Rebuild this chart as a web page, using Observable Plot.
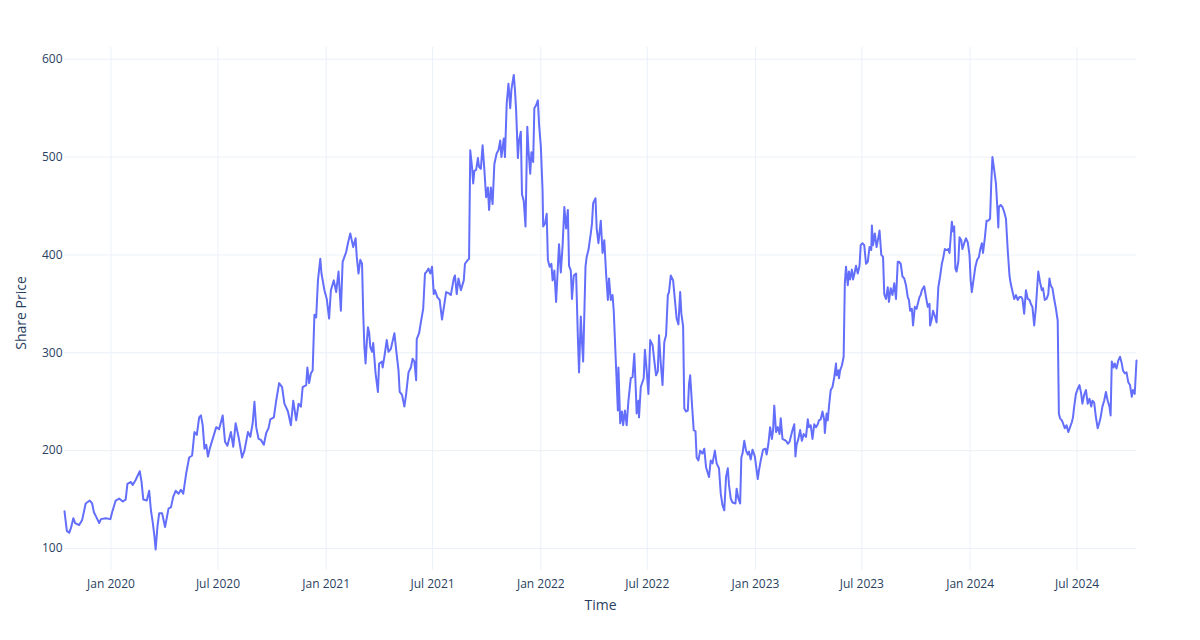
<!DOCTYPE html>
<html>
<head>
<meta charset="utf-8">
<script src="https://cdn.jsdelivr.net/npm/d3@7"></script>
<script src="https://cdn.jsdelivr.net/npm/@observablehq/plot@0.6"></script>
<style>
  html, body { margin: 0; padding: 0; background: #ffffff; }
  #chart { width: 1200px; height: 640px; }
</style>
</head>
<body>
<div id="chart"></div>
<script>
// Observation dates (one line per month)
const dates = [
  "2019-10-14","2019-10-18","2019-10-22","2019-10-25","2019-10-29",
  "2019-11-01","2019-11-08","2019-11-13","2019-11-19","2019-11-26","2019-11-30",
  "2019-12-03","2019-12-08","2019-12-12","2019-12-15","2019-12-23","2019-12-31",
  "2020-01-03","2020-01-09","2020-01-15","2020-01-21","2020-01-26","2020-01-29",
  "2020-02-04","2020-02-07","2020-02-12","2020-02-19","2020-02-22","2020-02-25",
  "2020-03-02","2020-03-06","2020-03-09","2020-03-12","2020-03-15","2020-03-17","2020-03-20","2020-03-23","2020-03-28",
  "2020-04-02","2020-04-08","2020-04-12","2020-04-16","2020-04-20","2020-04-25","2020-04-29",
  "2020-05-03","2020-05-08","2020-05-13","2020-05-18","2020-05-22","2020-05-26","2020-05-30",
  "2020-06-02","2020-06-05","2020-06-08","2020-06-11","2020-06-14","2020-06-17","2020-06-22","2020-06-28",
  "2020-07-03","2020-07-09","2020-07-13","2020-07-17","2020-07-23","2020-07-27","2020-07-31",
  "2020-08-05","2020-08-11","2020-08-15","2020-08-21","2020-08-25","2020-08-29",
  "2020-09-01","2020-09-04","2020-09-08","2020-09-12","2020-09-17","2020-09-21","2020-09-25","2020-09-28",
  "2020-10-04","2020-10-08","2020-10-13","2020-10-18","2020-10-22","2020-10-28",
  "2020-11-02","2020-11-06","2020-11-11","2020-11-15","2020-11-19","2020-11-22","2020-11-28","2020-11-30",
  "2020-12-03","2020-12-06","2020-12-09","2020-12-12","2020-12-15","2020-12-18","2020-12-22","2020-12-24","2020-12-29",
  "2021-01-02","2021-01-06","2021-01-09","2021-01-14","2021-01-18","2021-01-22","2021-01-26","2021-01-29",
  "2021-02-04","2021-02-07","2021-02-11","2021-02-16","2021-02-20","2021-02-22","2021-02-25","2021-02-28",
  "2021-03-03","2021-03-05","2021-03-07","2021-03-09","2021-03-11","2021-03-13","2021-03-15","2021-03-17","2021-03-20","2021-03-22","2021-03-26","2021-03-30",
  "2021-04-01","2021-04-06","2021-04-07","2021-04-10","2021-04-14","2021-04-17","2021-04-21","2021-04-27","2021-04-30",
  "2021-05-04","2021-05-06","2021-05-10","2021-05-14","2021-05-17","2021-05-21","2021-05-25","2021-05-28","2021-05-31",
  "2021-06-03","2021-06-04","2021-06-08","2021-06-11","2021-06-15","2021-06-18","2021-06-21","2021-06-24","2021-06-27","2021-06-30",
  "2021-07-03","2021-07-05","2021-07-09","2021-07-13","2021-07-17","2021-07-21","2021-07-24","2021-07-28",
  "2021-08-01","2021-08-06","2021-08-08","2021-08-11","2021-08-14","2021-08-18","2021-08-23","2021-08-25","2021-08-30",
  "2021-09-01","2021-09-03","2021-09-06","2021-09-08","2021-09-10","2021-09-13","2021-09-16","2021-09-18","2021-09-21","2021-09-24","2021-09-27","2021-09-30",
  "2021-10-03","2021-10-05","2021-10-08","2021-10-11","2021-10-14","2021-10-18","2021-10-21","2021-10-24","2021-10-26","2021-10-30",
  "2021-11-01","2021-11-04","2021-11-07","2021-11-10","2021-11-12","2021-11-16","2021-11-18","2021-11-20","2021-11-23","2021-11-25","2021-11-28","2021-11-30",
  "2021-12-03","2021-12-06","2021-12-09","2021-12-11","2021-12-14","2021-12-16","2021-12-19","2021-12-21","2021-12-24","2021-12-27","2021-12-29",
  "2022-01-01","2022-01-04","2022-01-05","2022-01-08","2022-01-11","2022-01-13","2022-01-16","2022-01-19","2022-01-21","2022-01-24","2022-01-27","2022-01-30",
  "2022-02-01","2022-02-04","2022-02-07","2022-02-10","2022-02-13","2022-02-16","2022-02-18","2022-02-21","2022-02-23","2022-02-26",
  "2022-03-02","2022-03-05","2022-03-07","2022-03-10","2022-03-12","2022-03-14","2022-03-18","2022-03-20","2022-03-23","2022-03-26","2022-03-27","2022-03-29","2022-03-31",
  "2022-04-04","2022-04-06","2022-04-09","2022-04-13","2022-04-16","2022-04-19","2022-04-22","2022-04-25","2022-04-27","2022-04-30",
  "2022-05-03","2022-05-05","2022-05-09","2022-05-12","2022-05-13","2022-05-16","2022-05-19","2022-05-21","2022-05-24","2022-05-27","2022-05-30",
  "2022-06-03","2022-06-06","2022-06-09","2022-06-12","2022-06-13","2022-06-16","2022-06-17","2022-06-20","2022-06-25","2022-06-27","2022-06-30",
  "2022-07-03","2022-07-06","2022-07-10","2022-07-13","2022-07-16","2022-07-19","2022-07-21","2022-07-24","2022-07-27","2022-07-30",
  "2022-08-02","2022-08-05","2022-08-07","2022-08-10","2022-08-14","2022-08-17","2022-08-20","2022-08-23","2022-08-26","2022-08-28","2022-08-31",
  "2022-09-02","2022-09-05","2022-09-08","2022-09-10","2022-09-12","2022-09-15","2022-09-18","2022-09-21","2022-09-23","2022-09-26","2022-09-29",
  "2022-10-03","2022-10-06","2022-10-09","2022-10-14","2022-10-17","2022-10-20","2022-10-24","2022-10-27","2022-10-31",
  "2022-11-03","2022-11-06","2022-11-09","2022-11-12","2022-11-15","2022-11-17","2022-11-20","2022-11-23","2022-11-28","2022-11-30",
  "2022-12-03","2022-12-06","2022-12-08","2022-12-10","2022-12-13","2022-12-16","2022-12-19","2022-12-21","2022-12-24","2022-12-27","2022-12-31",
  "2023-01-05","2023-01-07","2023-01-10","2023-01-14","2023-01-18","2023-01-20","2023-01-23","2023-01-26","2023-01-29","2023-01-31",
  "2023-02-02","2023-02-05","2023-02-08","2023-02-11","2023-02-13","2023-02-16","2023-02-22","2023-02-25","2023-02-28",
  "2023-03-05","2023-03-08","2023-03-10","2023-03-12","2023-03-15","2023-03-18","2023-03-21","2023-03-24","2023-03-28","2023-03-31",
  "2023-04-02","2023-04-05","2023-04-08","2023-04-11","2023-04-14","2023-04-17","2023-04-19","2023-04-22","2023-04-25","2023-04-28","2023-04-29",
  "2023-05-02","2023-05-04","2023-05-06","2023-05-09","2023-05-12","2023-05-15","2023-05-18","2023-05-19","2023-05-22","2023-05-23","2023-05-25","2023-05-28","2023-05-31",
  "2023-06-02","2023-06-04","2023-06-07","2023-06-09","2023-06-11","2023-06-14","2023-06-16","2023-06-18","2023-06-21","2023-06-24","2023-06-27","2023-06-29",
  "2023-07-02","2023-07-05","2023-07-08","2023-07-11","2023-07-14","2023-07-17","2023-07-18","2023-07-20","2023-07-23","2023-07-26","2023-07-29","2023-07-31",
  "2023-08-03","2023-08-06","2023-08-08","2023-08-11","2023-08-14","2023-08-16","2023-08-19","2023-08-22","2023-08-25","2023-08-28","2023-08-31",
  "2023-09-02","2023-09-05","2023-09-08","2023-09-11","2023-09-14","2023-09-17","2023-09-19","2023-09-21","2023-09-24","2023-09-26","2023-09-29",
  "2023-10-02","2023-10-07","2023-10-09","2023-10-11","2023-10-15","2023-10-18","2023-10-21","2023-10-24","2023-10-25","2023-10-28","2023-10-30",
  "2023-11-03","2023-11-05","2023-11-08","2023-11-11","2023-11-14","2023-11-16","2023-11-19","2023-11-22","2023-11-25","2023-11-27","2023-11-29",
  "2023-12-01","2023-12-03","2023-12-05","2023-12-07","2023-12-09","2023-12-12","2023-12-14","2023-12-17","2023-12-19","2023-12-22","2023-12-25","2023-12-28","2023-12-31",
  "2024-01-02","2024-01-04","2024-01-06","2024-01-10","2024-01-13","2024-01-16","2024-01-18","2024-01-21","2024-01-23","2024-01-26","2024-01-29",
  "2024-02-01","2024-02-04","2024-02-06","2024-02-08","2024-02-11","2024-02-14","2024-02-17","2024-02-18","2024-02-19","2024-02-22","2024-02-25","2024-02-28",
  "2024-03-02","2024-03-05","2024-03-08","2024-03-10","2024-03-16","2024-03-19","2024-03-22","2024-03-25","2024-03-28","2024-03-30",
  "2024-04-02","2024-04-05","2024-04-08","2024-04-11","2024-04-14","2024-04-16","2024-04-19","2024-04-22","2024-04-24","2024-04-26","2024-04-29",
  "2024-05-02","2024-05-04","2024-05-07","2024-05-10","2024-05-13","2024-05-15","2024-05-17","2024-05-20","2024-05-23","2024-05-26","2024-05-29","2024-05-31",
  "2024-06-02","2024-06-05","2024-06-07","2024-06-10","2024-06-13","2024-06-16","2024-06-19","2024-06-22","2024-06-24","2024-06-26","2024-06-29",
  "2024-07-02","2024-07-05","2024-07-08","2024-07-10","2024-07-13","2024-07-16","2024-07-19","2024-07-22","2024-07-25","2024-07-27","2024-07-30",
  "2024-08-02","2024-08-05","2024-08-08","2024-08-10","2024-08-13","2024-08-16","2024-08-19","2024-08-22","2024-08-25","2024-08-27","2024-08-29",
  "2024-09-01","2024-09-03","2024-09-06","2024-09-09","2024-09-12","2024-09-15","2024-09-17","2024-09-20","2024-09-23","2024-09-26","2024-09-29",
  "2024-10-02","2024-10-04","2024-10-07","2024-10-10"
];

// Share prices (same line layout as dates)
const prices = [
  138,118,116,121,131,
  126,124,129,146,149,146,
  137,131,126,130,131,130,
  137,149,151,148,150,166,
  168,165,170,179,168,150,
  149,159,139,127,112,99,122,136,136,
  122,141,142,153,159,156,160,
  156,177,193,195,219,216,234,
  236,226,202,206,194,202,212,224,
  222,236,209,205,219,204,228,
  214,193,200,219,214,228,
  250,224,212,211,206,218,223,232,
  234,251,269,265,248,240,
  226,251,231,248,245,265,267,285,
  269,279,282,339,336,374,396,381,364,
  355,335,364,374,362,383,343,393,
  403,412,422,408,417,398,381,395,
  391,340,306,289,310,326,321,306,301,310,279,260,
  289,291,285,296,313,301,304,320,303,
  282,260,257,245,258,280,285,294,291,
  272,314,320,331,345,381,383,386,381,388,
  360,364,357,354,334,350,362,361,
  359,376,379,360,376,364,374,391,395,
  396,507,490,473,486,487,499,490,488,512,487,459,
  469,446,469,452,493,504,507,517,500,519,
  500,555,575,550,569,584,569,548,499,517,526,462,
  455,429,531,507,483,505,495,550,553,558,534,
  511,466,429,432,442,395,388,391,374,384,352,388,
  411,382,409,449,427,446,389,384,355,379,
  381,316,280,337,311,291,388,398,405,418,422,432,453,
  458,427,412,435,402,415,381,354,376,354,
  359,343,285,241,285,228,240,226,241,226,251,
  274,275,299,255,238,251,234,265,274,303,282,
  258,313,308,292,277,281,318,289,267,311,
  318,359,362,379,374,354,335,329,362,340,327,
  243,240,241,268,277,248,221,220,193,190,200,
  197,202,183,173,190,187,200,187,182,
  156,144,139,173,182,165,151,147,146,161,
  151,146,193,197,210,200,196,199,191,201,194,
  171,180,190,201,202,196,207,224,212,221,
  246,219,224,217,233,212,210,207,209,
  221,227,194,206,212,221,210,217,214,232,
  224,226,212,227,224,227,231,232,240,231,218,
  238,231,245,262,265,275,289,277,282,274,282,287,296,
  371,388,369,383,375,385,375,380,389,381,389,410,
  412,410,391,393,408,405,430,410,422,408,418,425,
  400,398,360,355,367,352,366,359,371,355,393,
  393,391,378,376,369,357,354,343,345,328,347,
  345,357,359,364,368,357,347,350,328,335,343,
  336,331,367,378,391,396,406,405,406,402,418,
  434,424,429,386,383,393,418,415,406,412,417,413,400,
  374,362,371,388,395,398,405,412,402,417,435,
  435,437,473,500,487,473,441,428,449,451,449,444,
  437,405,379,371,355,359,354,357,357,355,
  340,364,355,354,349,347,328,347,366,383,372,
  364,366,354,355,360,376,369,366,355,345,333,238,
  233,231,228,223,226,219,224,229,234,245,258,
  263,267,258,248,257,262,248,253,245,251,249,
  234,223,229,234,245,251,260,251,245,236,291,
  285,289,284,292,296,289,282,279,280,270,267,
  255,262,258,292
];

const xTickDates = ["2020-01-01","2020-07-01","2021-01-01","2021-07-01","2022-01-01","2022-07-01","2023-01-01","2023-07-01","2024-01-01","2024-07-01"];
const yTickValues = [100, 200, 300, 400, 500, 600];
const xTitle = "Time";
const yTitle = "Share Price";

const n = Math.min(dates.length, prices.length);
const series = d3.range(n).map(i => ({date: new Date(dates[i] + "T00:00:00Z"), price: prices[i]}));
const xTicks = xTickDates.map(d => new Date(d + "T00:00:00Z"));
const fmt = d3.utcFormat("%b %Y");

const gridColor = "#EBF0F8";
const textColor = "#2a3f5f";

const chart = Plot.plot({
  width: 1200,
  height: 640,
  marginTop: 47,
  marginBottom: 70,
  marginLeft: 64,
  marginRight: 64,
  style: {
    fontFamily: '"Open Sans", verdana, arial, sans-serif',
    fontSize: "12px",
    color: textColor,
    background: "#ffffff",
    overflow: "visible"
  },
  x: {type: "utc", domain: [series[0].date, series[n - 1].date]},
  y: {domain: [77.5, 612]},
  marks: [
    Plot.gridX(xTicks, {stroke: gridColor, strokeOpacity: 1, strokeWidth: 1}),
    Plot.gridY(yTickValues, {stroke: gridColor, strokeOpacity: 1, strokeWidth: 1}),
    Plot.axisX(xTicks, {tickSize: 0, tickPadding: 9, tickFormat: fmt, label: null, fill: textColor, fontSize: 12}),
    Plot.axisY(yTickValues, {tickSize: 0, tickPadding: 2, label: null, fill: textColor, fontSize: 12}),
    Plot.line(series, {x: "date", y: "price", stroke: "#636efa", strokeWidth: 2, strokeLinejoin: "round"}),
    Plot.text([xTitle], {frameAnchor: "bottom", dy: 39, fontSize: 14, fill: textColor}),
    Plot.text([yTitle], {frameAnchor: "left", textAnchor: "middle", dx: -43, dy: 4, rotate: -90, fontSize: 14, fill: textColor})
  ]
});

document.getElementById("chart").appendChild(chart);
</script>
</body>
</html>
